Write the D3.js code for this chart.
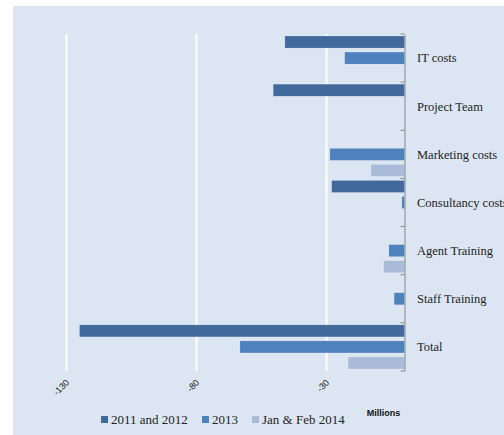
<!DOCTYPE html>
<html>
<head>
<meta charset="utf-8">
<script src="https://cdn.jsdelivr.net/npm/d3@7"></script>
<style>
  body { margin: 0; background: #fff; }
  svg { display: block; }
</style>
</head>
<body>
<div id="chart"></div>
<script>
const width = 504;
const height = 435;

const categories = ["IT costs", "Project Team", "Marketing costs", "Consultancy costs",
                    "Agent Training", "Staff Training", "Total"];
const seriesNames = ["2011 and 2012", "2013", "Jan & Feb 2014"];
const values2011_2012 = [-46, -50.5, 0, -28, 0, 0, -125];
const values2013 = [-23, 0, -28.7, -1, -6, -4, -63.3];
const valuesJanFeb2014 = [0, 0, -12.9, 0, -8, 0, -21.7];
const xTicks = [-130, -80, -30];
const colors = ["#41699b", "#4f81bd", "#aabbd8"];

const allSeries = [values2011_2012, values2013, valuesJanFeb2014];

let svg = d3.select("#chart")
            .append("svg")
            .attr("width", width)
            .attr("height", height);

// panel background
svg.append("rect")
   .attr("x", 13).attr("y", 6)
   .attr("width", width - 13).attr("height", height - 6)
   .attr("fill", "#dce6f2");

const plot = { left: 66.5, right: 404.5, top: 34, bottom: 371 };

let x = d3.scaleLinear()
          .domain([-130, 0])
          .range([plot.left, plot.right]);

let y = d3.scaleBand()
          .domain(categories)
          .range([plot.top, plot.bottom]);

let inner = d3.scaleBand()
              .domain(d3.range(seriesNames.length))
              .range([2, y.bandwidth() - 2])
              .paddingInner(0.25);

// gridlines
svg.selectAll(".grid")
   .data(xTicks)
   .enter()
   .append("line")
   .attr("x1", d => x(d)).attr("x2", d => x(d))
   .attr("y1", plot.top).attr("y2", plot.bottom)
   .attr("stroke", "#fff")
   .attr("stroke-width", 2);

// bars
allSeries.forEach((vals, s) => {
  svg.append("g")
     .selectAll("rect")
     .data(vals.map((v, i) => ({ cat: categories[i], v })).filter(d => d.v !== 0))
     .enter()
     .append("rect")
     .attr("x", d => x(Math.min(d.v, 0)))
     .attr("width", d => Math.abs(x(d.v) - x(0)))
     .attr("y", d => y(d.cat) + inner(s))
     .attr("height", inner.bandwidth())
     .attr("fill", colors[s])
     .attr("stroke", "rgba(255,255,255,0.35)")
     .attr("stroke-width", 0.5);
});

// vertical category axis at zero
let yAxis = d3.axisLeft(y).tickSize(0).tickFormat("");
let axisG = svg.append("g")
   .attr("transform", `translate(${x(0)},0)`)
   .call(yAxis);
axisG.select(".domain").attr("stroke", "#868686");

svg.selectAll(".ytick")
   .data(d3.range(categories.length + 1))
   .enter()
   .append("line")
   .attr("x1", x(0) - 4).attr("x2", x(0))
   .attr("y1", i => plot.top + i * y.step())
   .attr("y2", i => plot.top + i * y.step())
   .attr("stroke", "#868686");

svg.selectAll(".catlabel")
   .data(categories)
   .enter()
   .append("text")
   .attr("x", 417)
   .attr("y", d => y(d) + y.bandwidth() / 2)
   .attr("dy", "0.35em")
   .attr("font-family", "'Liberation Serif', 'Times New Roman', serif")
   .attr("font-size", "12.5px")
   .attr("fill", "#222")
   .text(d => d);

// x tick labels
svg.selectAll(".xlabel")
   .data(xTicks)
   .enter()
   .append("text")
   .attr("transform", d => `translate(${x(d) + 1},${plot.bottom + 10}) rotate(-45)`)
   .attr("text-anchor", "end")
   .attr("dy", "0.35em")
   .attr("font-family", "'Liberation Sans', Arial, sans-serif")
   .attr("font-size", "9px")
   .attr("fill", "#222")
   .text(d => d);

svg.append("text")
   .attr("x", 383.5).attr("y", 413)
   .attr("text-anchor", "middle")
   .attr("dy", "0.35em")
   .attr("font-family", "'Liberation Sans', Arial, sans-serif")
   .attr("font-size", "9px")
   .attr("font-weight", "bold")
   .attr("fill", "#111")
   .text("Millions");

// legend
const legendX = [101, 202, 252];
let legend = svg.append("g");
seriesNames.forEach((name, i) => {
  legend.append("rect")
        .attr("x", legendX[i]).attr("y", 416)
        .attr("width", 7).attr("height", 7)
        .attr("fill", colors[i]);
  legend.append("text")
        .attr("x", legendX[i] + 10).attr("y", 419.5)
        .attr("dy", "0.35em")
        .attr("font-family", "'Liberation Serif', 'Times New Roman', serif")
        .attr("font-size", "13px")
        .attr("fill", "#222")
        .text(name);
});
</script>
</body>
</html>
